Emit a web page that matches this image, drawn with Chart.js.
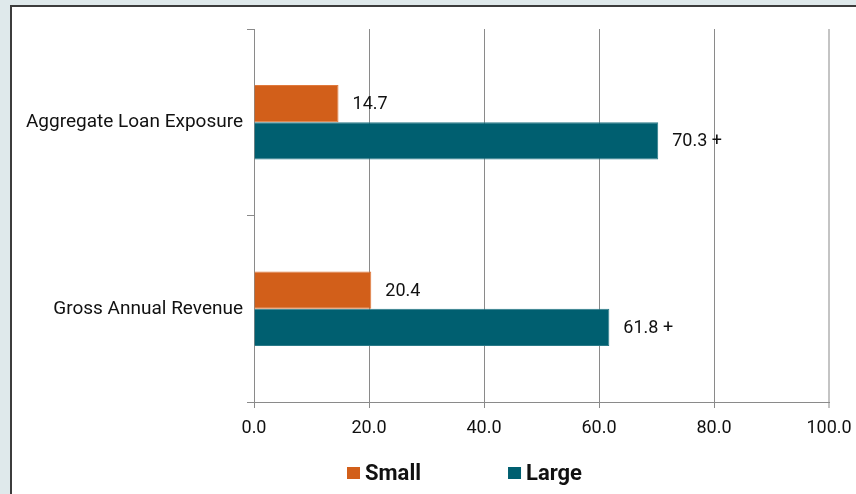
<!DOCTYPE html>
<html>
<head>
<meta charset="utf-8">
<script src="https://cdn.jsdelivr.net/npm/chart.js@4.4.1/dist/chart.umd.min.js"></script>
<style>
  html, body { margin: 0; padding: 0; background: #dfe9eb; overflow: hidden; width: 856px; height: 494px; }
  #card { position: absolute; left: 10px; top: 5px; width: 900px; height: 600px; background: #fff;
          border-left: 2px solid #3c3c3c; border-top: 2px solid #3c3c3c; }
  #wrap { position: absolute; left: 0; top: 0; width: 929px; height: 494px; }
</style>
</head>
<body>
<div id="card"></div>
<div id="wrap"><canvas id="c" width="929" height="494"></canvas></div>
<script>
const categories = ['Aggregate Loan Exposure', 'Gross Annual Revenue'];
const seriesNames = ['Small', 'Large'];
const smallValues = [14.7, 20.4];
const largeValues = [70.3, 61.8];
const smallSuffix = ['', ''];
const largeSuffix = ['+', '+'];
const xTickValues = [0, 20, 40, 60, 80, 100];

const FONT = "'Roboto', 'Liberation Sans', sans-serif";
const ORANGE = '#d25f1a';
const TEAL = '#005f70';

const valueLabels = {
  id: 'valueLabels',
  afterDatasetsDraw(chart) {
    const ctx = chart.ctx;
    ctx.save();
    ctx.font = '18px ' + FONT;
    ctx.fillStyle = '#111';
    ctx.textBaseline = 'middle';
    ctx.textAlign = 'left';
    chart.data.datasets.forEach((ds, di) => {
      const meta = chart.getDatasetMeta(di);
      meta.data.forEach((el, i) => {
        const sfx = ds.suffix[i];
        const txt = ds.data[i].toFixed(1) + (sfx ? ' ' + sfx : '');
        ctx.fillText(txt, el.x + 14, el.y + 1);
      });
    });
    ctx.restore();
  }
};

const customLegend = {
  id: 'customLegend',
  afterDraw(chart) {
    const ctx = chart.ctx;
    ctx.save();
    ctx.font = 'bold 22px ' + FONT;
    const box = 13, gapText = 5, gapItem = 87;
    const items = chart.data.datasets.map(ds => ({ text: ds.label, color: ds.backgroundColor, w: ctx.measureText(ds.label).width }));
    let total = 0;
    items.forEach((it, i) => { total += box + gapText + it.w + (i ? gapItem : 0); });
    let x = chart.width / 2 - total / 2;
    const y = 473;
    ctx.textBaseline = 'middle';
    ctx.textAlign = 'left';
    items.forEach((it, i) => {
      if (i) x += gapItem;
      ctx.fillStyle = it.color;
      ctx.fillRect(x, y - 6, box, 12);
      x += box + gapText;
      ctx.fillStyle = '#111';
      ctx.fillText(it.text, x, y + 1);
      x += it.w;
    });
    ctx.restore();
  }
};

new Chart(document.getElementById('c'), {
  type: 'bar',
  data: {
    labels: categories,
    datasets: [
      { label: seriesNames[0], data: smallValues, suffix: smallSuffix, backgroundColor: ORANGE, borderColor: '#e0793c', borderWidth: 1 },
      { label: seriesNames[1], data: largeValues, suffix: largeSuffix, backgroundColor: TEAL, borderColor: '#2a7a88', borderWidth: 1 }
    ]
  },
  options: {
    indexAxis: 'y',
    responsive: false,
    animation: false,
    devicePixelRatio: 1,
    categoryPercentage: 0.4,
    barPercentage: 1.0,
    layout: { padding: { top: 29, right: 100, left: 0, bottom: 0 } },
    plugins: { legend: { display: false }, tooltip: { enabled: false } },
    scales: {
      x: {
        type: 'linear', min: 0, max: 100,
        afterBuildTicks(s) { s.ticks = xTickValues.map(v => ({ value: v })); },
        afterFit(s) { s.height = 494 - 402; },
        border: { color: '#8a8a8a', width: 1 },
        grid: {
          color: c => (c.tick && c.tick.value === 100) ? '#c4c4c4' : '#8a8a8a',
          lineWidth: c => (c.tick && c.tick.value === 100) ? 2 : 1,
          tickLength: 6, drawTicks: true
        },
        ticks: { color: '#111', font: { family: FONT, size: 18 }, padding: 10, maxRotation: 0,
                 callback: v => Number(v).toFixed(1) }
      },
      y: {
        afterFit(s) { s.width = 254; },
        border: { color: '#8a8a8a', width: 1 },
        grid: { drawOnChartArea: false, offset: true, tickLength: 7, color: '#8a8a8a' },
        ticks: { color: '#111', font: { family: FONT, size: 19 }, padding: 4 }
      }
    }
  },
  plugins: [valueLabels, customLegend]
});
</script>
</body>
</html>
